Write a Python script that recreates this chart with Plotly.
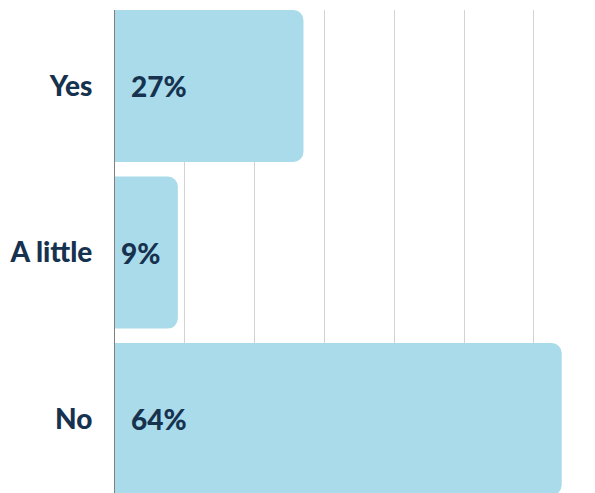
import plotly.graph_objects as go

categories = ["Yes", "A little", "No"]
shares = [27, 9, 64]

BAR_COLOR = "#a9dbeb"
TEXT_COLOR = "#16324f"
FONT = "'Lato Black', 'Lato Heavy', Lato"
PX_PER_UNIT = 6.98  # horizontal pixels per percentage point

fig = go.Figure(
    go.Bar(
        x=shares,
        y=categories,
        orientation="h",
        marker=dict(color=BAR_COLOR, cornerradius=10, line=dict(width=0)),
        hoverinfo="skip",
    )
)

# value labels placed just inside the start of each bar;
# narrow bars get a smaller inset so the label stays inside
for cat, val in zip(categories, shares):
    inset = 14 if val * PX_PER_UNIT > 100 else 4
    fig.add_annotation(
        x=0, y=cat, text=f"{val}%", showarrow=False,
        xanchor="left", yanchor="middle", xshift=inset,
        font=dict(family=FONT, size=28, color=TEXT_COLOR, weight=900),
    )

fig.update_layout(
    width=595, height=493,
    margin=dict(l=115, r=0, t=10, b=0),
    paper_bgcolor="white", plot_bgcolor="white",
    bargap=0.087,
    showlegend=False,
    xaxis=dict(
        range=[0, 480 / PX_PER_UNIT], dtick=10, showgrid=True, gridcolor="#d3d3d3",
        gridwidth=1, zeroline=False, showticklabels=False, fixedrange=True,
    ),
    yaxis=dict(
        type="category", categoryorder="array", categoryarray=categories,
        range=[2.444, -0.4565], showgrid=False, zeroline=False,
        showline=True, linecolor="#808080", linewidth=1,
        ticks="", ticklabelstandoff=16,
        tickfont=dict(family=FONT, size=28, color=TEXT_COLOR, weight=900),
    ),
)

fig.write_html("out.html")
